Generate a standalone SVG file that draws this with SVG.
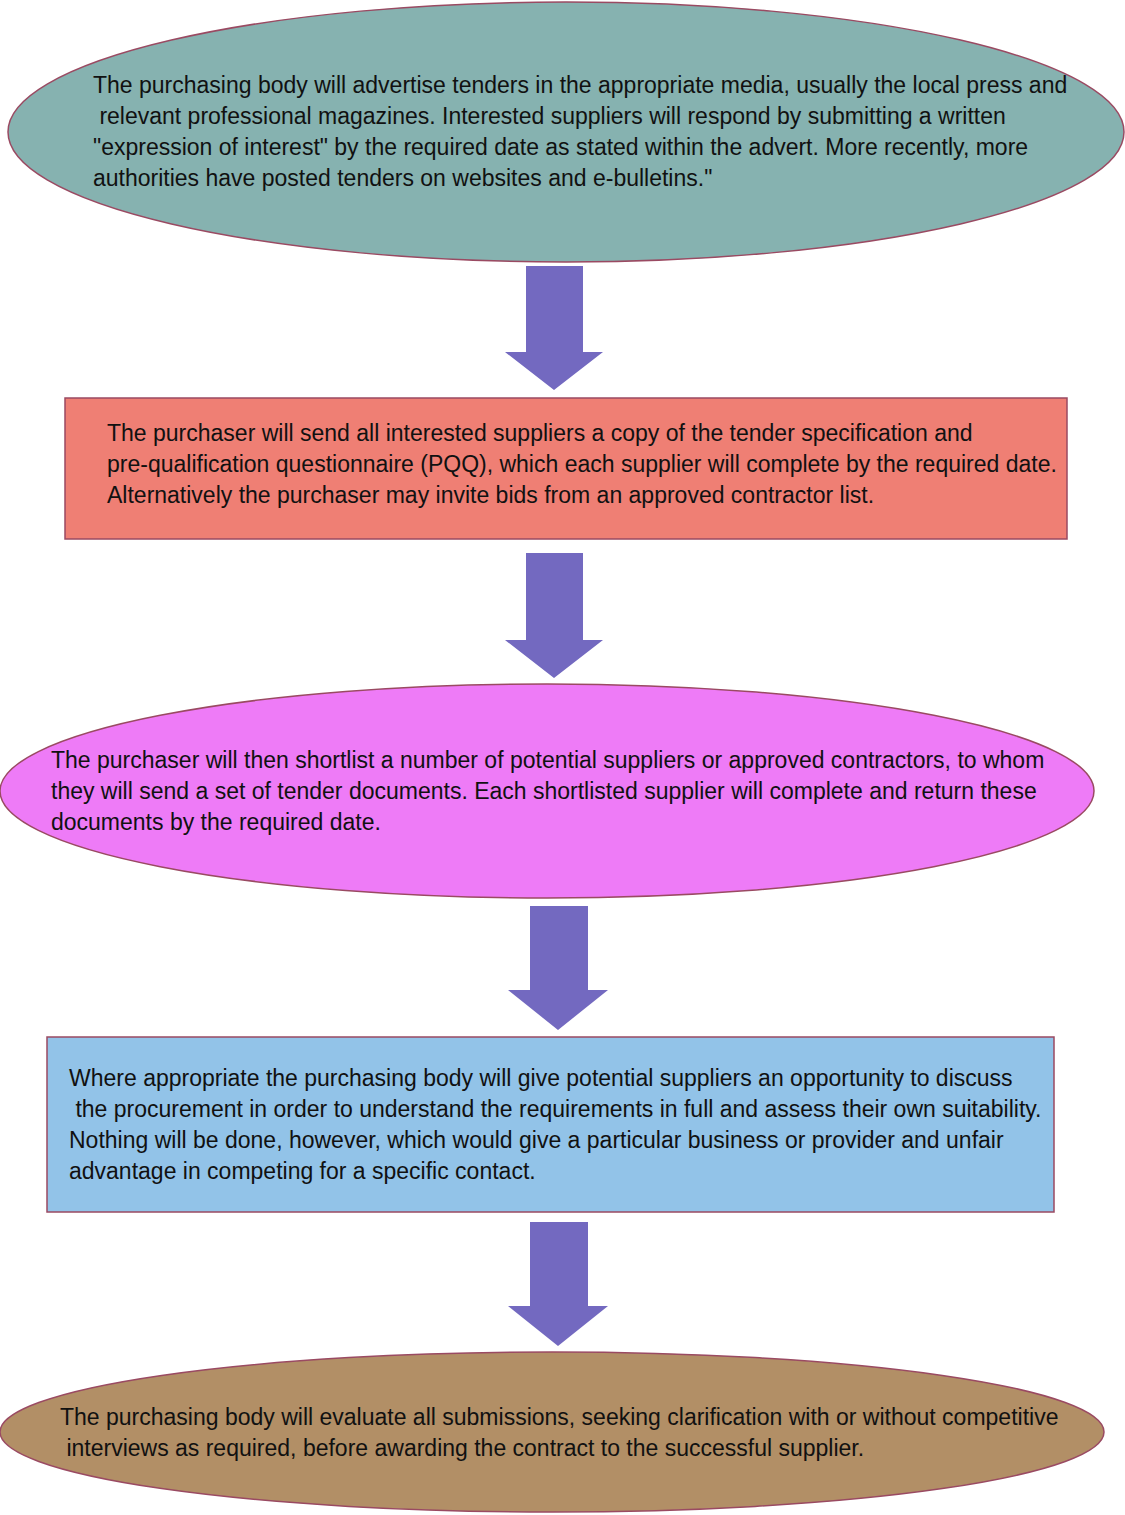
<svg xmlns="http://www.w3.org/2000/svg" width="1125" height="1515" viewBox="0 0 1125 1515">
<defs>
<style>
.node{stroke:#9a4a62;stroke-width:1.5}
.t{font-family:"Liberation Sans",Arial,sans-serif;font-size:23px;fill:#111}
.arrow{fill:#7369c0}
</style>
</defs>
<rect width="1125" height="1515" fill="#ffffff"/>
<g id="connectors">
<polygon class="arrow" points="526,266 583,266 583,352 603,352 554,390 505,352 526,352"/>
<polygon class="arrow" points="526,553 583,553 583,640 603,640 554,678 505,640 526,640"/>
<polygon class="arrow" points="530,906 588,906 588,990 608,990 558,1030 508,990 530,990"/>
<polygon class="arrow" points="530,1222 588,1222 588,1306 608,1306 558,1346 508,1306 530,1306"/>
</g>
<g id="node1">
<ellipse class="node" cx="566" cy="132" rx="558" ry="130" fill="#86b2b0"/>
<text class="t" x="93" y="93">The purchasing body will advertise tenders in the appropriate media, usually the local press and</text>
<text class="t" x="93" y="124" xml:space="preserve"> relevant professional magazines. Interested suppliers will respond by submitting a written</text>
<text class="t" x="93" y="155">"expression of interest" by the required date as stated within the advert. More recently, more</text>
<text class="t" x="93" y="186">authorities have posted tenders on websites and e-bulletins."</text>
</g>
<g id="node2">
<rect class="node" x="65" y="398" width="1002" height="141" fill="#ef7f74"/>
<text class="t" x="107" y="441">The purchaser will send all interested suppliers a copy of the tender specification and</text>
<text class="t" x="107" y="472">pre-qualification questionnaire (PQQ), which each supplier will complete by the required date.</text>
<text class="t" x="107" y="503">Alternatively the purchaser may invite bids from an approved contractor list.</text>
</g>
<g id="node3">
<ellipse class="node" cx="547" cy="791" rx="547" ry="107" fill="#ee7bf7"/>
<text class="t" x="51" y="768">The purchaser will then shortlist a number of potential suppliers or approved contractors, to whom</text>
<text class="t" x="51" y="799">they will send a set of tender documents. Each shortlisted supplier will complete and return these</text>
<text class="t" x="51" y="830">documents by the required date.</text>
</g>
<g id="node4">
<rect class="node" x="47" y="1037" width="1007" height="175" fill="#92c3e8"/>
<text class="t" x="69" y="1086">Where appropriate the purchasing body will give potential suppliers an opportunity to discuss</text>
<text class="t" x="69" y="1117" xml:space="preserve"> the procurement in order to understand the requirements in full and assess their own suitability.</text>
<text class="t" x="69" y="1148">Nothing will be done, however, which would give a particular business or provider and unfair</text>
<text class="t" x="69" y="1179">advantage in competing for a specific contact.</text>
</g>
<g id="node5">
<ellipse class="node" cx="552" cy="1432" rx="552" ry="80" fill="#b28f66"/>
<text class="t" x="60" y="1425">The purchasing body will evaluate all submissions, seeking clarification with or without competitive</text>
<text class="t" x="60" y="1456" xml:space="preserve"> interviews as required, before awarding the contract to the successful supplier.</text>
</g>
</svg>
